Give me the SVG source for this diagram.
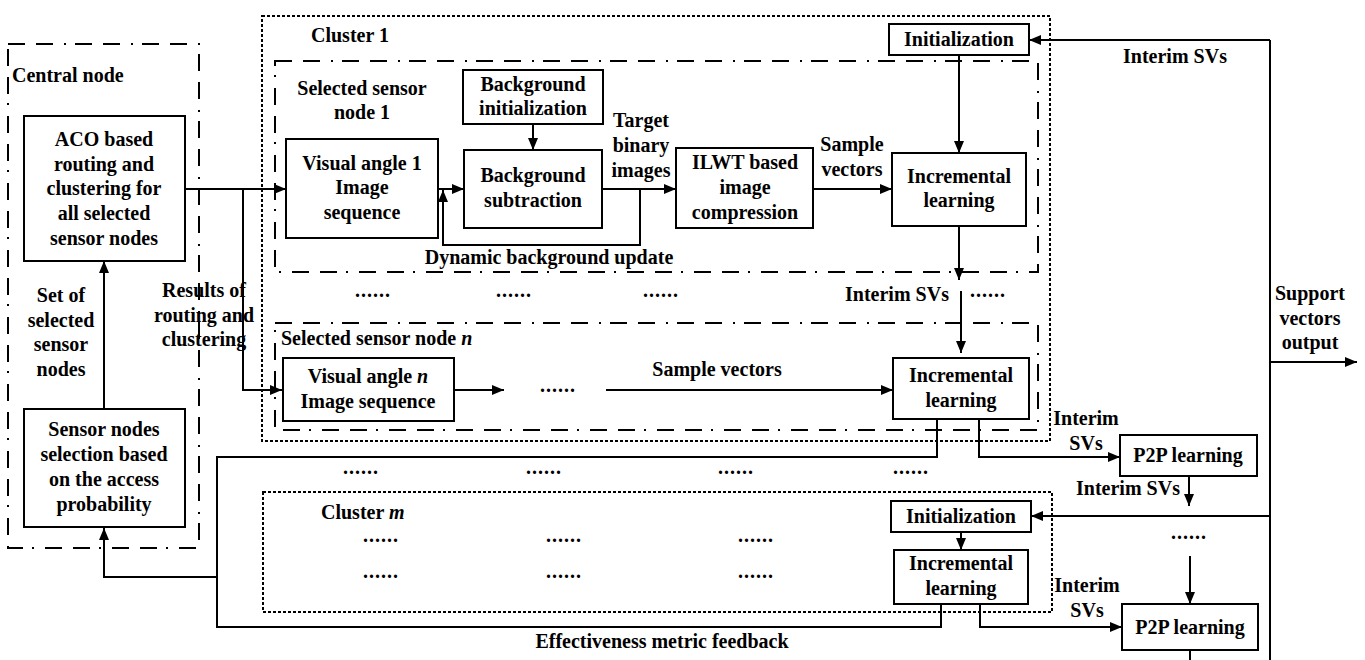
<svg xmlns="http://www.w3.org/2000/svg" width="1365" height="660" viewBox="0 0 1365 660">
  <defs>
    <marker id="arrow" viewBox="0 0 12 10" refX="12" refY="5" markerWidth="12" markerHeight="10" markerUnits="userSpaceOnUse" orient="auto">
      <path d="M0,0 L12,5 L0,10 z" fill="#000"/>
    </marker>
    <style>
      text { font-family: "Liberation Serif", "Times New Roman", serif; font-weight: bold; font-size: 20px; fill: #000; }
      .c { text-anchor: middle; }
      .box { fill: #fff; stroke: #000; stroke-width: 2; }
      .dotted { fill: none; stroke: #000; stroke-width: 2; stroke-dasharray: 3 2; }
      .dashdot { fill: none; stroke: #000; stroke-width: 2; stroke-dasharray: 17 11 17 11 2 9; }
      .wire { fill: none; stroke: #000; stroke-width: 2; }
      .arr { marker-end: url(#arrow); }
      .dots { letter-spacing: 1px; }
    </style>
  </defs>
  <rect width="1365" height="660" fill="#fff"/>

  <!-- container frames -->
  <g id="central-node">
    <rect class="dashdot" x="8" y="44" width="191" height="504"/>
    <text x="12" y="82">Central node</text>
  </g>
  <g id="cluster-1">
    <rect class="dotted" x="262" y="16" width="788" height="425"/>
    <text x="311" y="42">Cluster 1</text>
  </g>
  <g id="sensor-node-1">
    <rect class="dashdot" x="275" y="61" width="763" height="211"/>
    <text class="c" x="362" y="95">Selected sensor</text>
    <text class="c" x="362" y="119">node 1</text>
  </g>
  <g id="sensor-node-n">
    <rect class="dashdot" x="275" y="323" width="763" height="107"/>
    <text x="281" y="345">Selected sensor node <tspan font-style="italic">n</tspan></text>
  </g>
  <g id="cluster-m">
    <rect class="dotted" x="263" y="492" width="789" height="120"/>
    <text x="321" y="519">Cluster <tspan font-style="italic">m</tspan></text>
  </g>

  <!-- connectors -->
  <g id="connectors">
    <path class="wire arr" d="M185,189 H286"/>
    <path class="wire arr" d="M243,189 V390 H282"/>
    <path class="wire arr" d="M438,189 H464"/>
    <path class="wire arr" d="M533,124 V150"/>
    <path class="wire arr" d="M602,189 H676"/>
    <path class="wire arr" d="M640,189 V245 H443 V190"/>
    <path class="wire arr" d="M813,189 H892"/>
    <path class="wire arr" d="M959,55 V153"/>
    <path class="wire arr" d="M959,226 V280"/>
    <path class="wire arr" d="M961,291 V353"/>
    <path class="wire arr" d="M454,390 H504"/>
    <path class="wire arr" d="M606,390 H893"/>
    <!-- effectiveness feedback loop -->
    <path class="wire" d="M937,419 V457 H217 V627 H941 V604"/>
    <path class="wire arr" d="M217,577 H104 V528"/>
    <path class="wire arr" d="M979,419 V457 H1120"/>
    <path class="wire arr" d="M1189,476 V506"/>
    <path class="wire arr" d="M1190,556 V604"/>
    <path class="wire" d="M1190,650 V660"/>
    <!-- support vector bus -->
    <path class="wire" d="M1270,40 V660"/>
    <path class="wire arr" d="M1270,40 H1029"/>
    <path class="wire arr" d="M1270,516 H1031"/>
    <path class="wire arr" d="M1270,362 H1357"/>
    <path class="wire arr" d="M961,532 V550"/>
    <path class="wire arr" d="M980,604 V627 H1122"/>
    <path class="wire arr" d="M104,409 V261"/>
  </g>

  <!-- process nodes -->
  <g id="aco">
    <rect class="box" x="24" y="116" width="161" height="145"/>
    <text class="c" x="104" y="146">ACO based</text>
    <text class="c" x="104" y="171">routing and</text>
    <text class="c" x="104" y="195">clustering for</text>
    <text class="c" x="104" y="220">all selected</text>
    <text class="c" x="104" y="245">sensor nodes</text>
  </g>
  <g id="sensor-selection">
    <rect class="box" x="24" y="409" width="161" height="118"/>
    <text class="c" x="104" y="436">Sensor nodes</text>
    <text class="c" x="104" y="461">selection based</text>
    <text class="c" x="104" y="486">on the access</text>
    <text class="c" x="104" y="511">probability</text>
  </g>
  <g id="visual-angle-1">
    <rect class="box" x="286" y="139" width="152" height="99"/>
    <text class="c" x="362" y="170">Visual angle 1</text>
    <text class="c" x="362" y="194">Image</text>
    <text class="c" x="362" y="219">sequence</text>
  </g>
  <g id="background-init">
    <rect class="box" x="463" y="70" width="140" height="54"/>
    <text class="c" x="533" y="91">Background</text>
    <text class="c" x="533" y="115">initialization</text>
  </g>
  <g id="background-sub">
    <rect class="box" x="464" y="150" width="138" height="78"/>
    <text class="c" x="533" y="182">Background</text>
    <text class="c" x="533" y="207">subtraction</text>
  </g>
  <g id="ilwt">
    <rect class="box" x="676" y="148" width="137" height="80"/>
    <text class="c" x="745" y="169">ILWT based</text>
    <text class="c" x="745" y="194">image</text>
    <text class="c" x="745" y="219">compression</text>
  </g>
  <g id="init-1">
    <rect class="box" x="889" y="24" width="140" height="31"/>
    <text class="c" x="959" y="46">Initialization</text>
  </g>
  <g id="incremental-1">
    <rect class="box" x="892" y="153" width="134" height="73"/>
    <text class="c" x="959" y="183">Incremental</text>
    <text class="c" x="959" y="207">learning</text>
  </g>
  <g id="visual-angle-n">
    <rect class="box" x="283" y="358" width="171" height="63"/>
    <text class="c" x="368" y="383">Visual angle <tspan font-style="italic">n</tspan></text>
    <text class="c" x="368" y="408">Image sequence</text>
  </g>
  <g id="incremental-n">
    <rect class="box" x="893" y="358" width="136" height="61"/>
    <text class="c" x="961" y="382">Incremental</text>
    <text class="c" x="961" y="407">learning</text>
  </g>
  <g id="init-m">
    <rect class="box" x="891" y="501" width="140" height="31"/>
    <text class="c" x="961" y="523">Initialization</text>
  </g>
  <g id="incremental-m">
    <rect class="box" x="894" y="550" width="134" height="54"/>
    <text class="c" x="961" y="570">Incremental</text>
    <text class="c" x="961" y="595">learning</text>
  </g>
  <g id="p2p-1">
    <rect class="box" x="1120" y="435" width="137" height="41"/>
    <text class="c" x="1188" y="462">P2P learning</text>
  </g>
  <g id="p2p-2">
    <rect class="box" x="1122" y="604" width="136" height="46"/>
    <text class="c" x="1190" y="634">P2P learning</text>
  </g>

  <!-- connector labels -->
  <g id="labels">
    <text class="c" x="61" y="302">Set of</text>
    <text class="c" x="61" y="327">selected</text>
    <text class="c" x="61" y="351">sensor</text>
    <text class="c" x="61" y="376">nodes</text>
    <text class="c" x="204" y="297">Results of</text>
    <text class="c" x="204" y="322">routing and</text>
    <text class="c" x="204" y="346">clustering</text>
    <text class="c" x="641" y="127">Target</text>
    <text class="c" x="641" y="152">binary</text>
    <text class="c" x="641" y="177">images</text>
    <text class="c" x="852" y="151">Sample</text>
    <text class="c" x="852" y="176">vectors</text>
    <text class="c" x="549" y="264">Dynamic background update</text>
    <text class="c" x="897" y="301">Interim SVs</text>
    <text class="c" x="717" y="376">Sample vectors</text>
    <text class="c" x="1175" y="63">Interim SVs</text>
    <text class="c" x="1310" y="300">Support</text>
    <text class="c" x="1310" y="325">vectors</text>
    <text class="c" x="1310" y="349">output</text>
    <text class="c" x="1086" y="425">Interim</text>
    <text class="c" x="1086" y="450">SVs</text>
    <text class="c" x="1128" y="495">Interim SVs</text>
    <text class="c" x="1087" y="592">Interim</text>
    <text class="c" x="1087" y="617">SVs</text>
    <text class="c" x="662" y="648">Effectiveness metric feedback</text>
  </g>

  <!-- ellipses -->
  <g id="ellipses" class="dots">
    <text x="355" y="297">......</text>
    <text x="496" y="297">......</text>
    <text x="643" y="297">......</text>
    <text x="970" y="297">......</text>
    <text x="540" y="392">......</text>
    <text x="343" y="474">......</text>
    <text x="526" y="474">......</text>
    <text x="718" y="474">......</text>
    <text x="893" y="474">......</text>
    <text x="363" y="542">......</text>
    <text x="546" y="542">......</text>
    <text x="738" y="542">......</text>
    <text x="363" y="578">......</text>
    <text x="546" y="578">......</text>
    <text x="738" y="578">......</text>
    <text x="1171" y="539">......</text>
  </g>
</svg>
